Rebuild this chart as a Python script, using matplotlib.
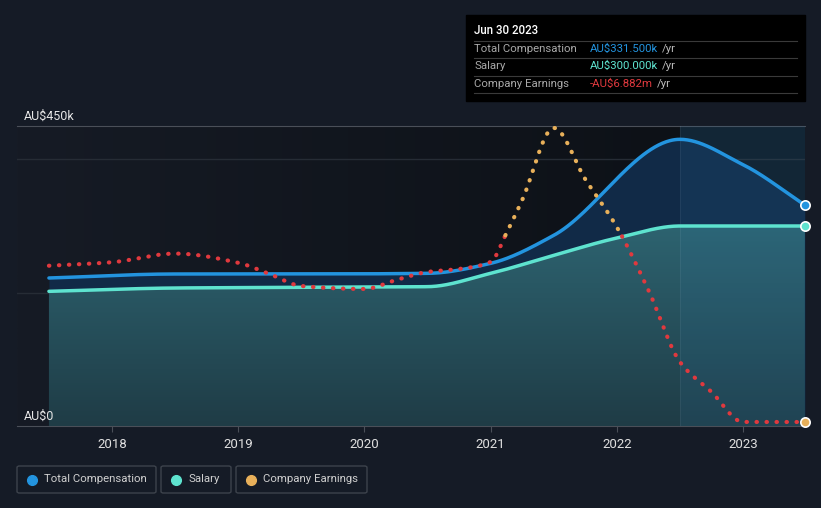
import numpy as np
import matplotlib.pyplot as plt
from matplotlib.patches import FancyBboxPatch, Rectangle
from matplotlib.colors import LinearSegmentedColormap

plt.rcParams['font.family'] = ['Roboto', 'DejaVu Sans']

# ---- data (AU$ thousands, earnings in AU$ millions) ----
comp_x = [2017.5, 2018.5, 2019.5, 2020.5, 2021, 2021.5, 2022.5, 2023, 2023.49]
total_comp = [222, 228, 228, 229, 244, 286, 430, 392, 331.5]
sal_x = [2017.5, 2018.5, 2019.5, 2020.5, 2021, 2021.5, 2022, 2022.5, 2023, 2023.49]
salary = [202, 207, 208, 209, 229, 256, 282, 300, 300, 300]

earn_x = [2017.5, 2018, 2018.5, 2019, 2019.25, 2019.5, 2020, 2020.25, 2020.5, 2020.75,
          2021, 2021.125, 2021.25, 2021.5, 2021.75, 2022, 2022.25, 2022.5, 2022.75,
          2023, 2023.25, 2023.49]
earnings = [-1.10, -0.97, -0.65, -0.99, -1.41, -1.85, -1.96, -1.63, -1.33, -1.22,
            -0.96, 0.10, 1.33, 4.0, 2.1, 0.33, -2.0, -4.66, -5.77,
            -6.88, -6.882, -6.882]

years = [2018, 2019, 2020, 2021, 2022, 2023]

BG = '#151b26'
BLUE = '#2394df'
TEAL = '#5ee3cf'
ORANGE = '#e8b05a'
RED = '#e0393e'


def pchip(x, y, n=600):
    # monotone cubic (Fritsch-Carlson), only used to draw smooth lines
    x = np.asarray(x, float)
    y = np.asarray(y, float)
    h = np.diff(x)
    d = np.diff(y) / h
    m = np.zeros_like(y)
    for i in range(1, len(y) - 1):
        if d[i - 1] * d[i] > 0:
            w1 = 2 * h[i] + h[i - 1]
            w2 = h[i] + 2 * h[i - 1]
            m[i] = (w1 + w2) / (w1 / d[i - 1] + w2 / d[i])
    m[0] = d[0]
    m[-1] = d[-1]
    xs = np.linspace(x[0], x[-1], n)
    idx = np.clip(np.searchsorted(x, xs) - 1, 0, len(h) - 1)
    t = (xs - x[idx]) / h[idx]
    h00 = 2 * t**3 - 3 * t**2 + 1
    h10 = t**3 - 2 * t**2 + t
    h01 = -2 * t**3 + 3 * t**2
    h11 = t**3 - t**2
    ys = h00 * y[idx] + h10 * h[idx] * m[idx] + h01 * y[idx + 1] + h11 * h[idx] * m[idx + 1]
    return xs, ys


fig = plt.figure(figsize=(8.21, 5.08), dpi=100, facecolor=BG)
ax = fig.add_axes([17 / 821, 82 / 508, 788 / 821, 300 / 508])
x0, x1 = 2017.247, 2023.491
ax.set_xlim(x0, x1)
ax.set_ylim(0, 450)
ax.set_facecolor(BG)

# background gradient, darker toward the right
grad = LinearSegmentedColormap.from_list('g', ['#161b25', '#0d1117'])
ax.imshow(np.linspace(0, 1, 256).reshape(1, -1), cmap=grad, aspect='auto',
          extent=[x0, 2022.5, 0, 450], zorder=0)
ax.add_patch(Rectangle((2022.5, 0), x1 - 2022.5, 450, color='#0f1a25', zorder=0))

for g in (200, 400):
    ax.axhline(g, color='#262c35', lw=1, zorder=1)

tx, ty = pchip(comp_x, total_comp)
sx, sy = pchip(sal_x, salary)
ax.fill_between(tx, ty, 0, color='#112a47', zorder=2, lw=0)
sfill = ax.fill_between(sx, sy, 0, color='none', zorder=3, lw=0)
sgrad = LinearSegmentedColormap.from_list('s', ['#1f3c46', '#2d6370'])
img = ax.imshow(np.linspace(0, 1, 256).reshape(-1, 1), cmap=sgrad, aspect='auto', origin='lower',
                extent=[x0, x1, 0, 300], zorder=3)
img.set_clip_path(sfill.get_paths()[0], transform=ax.transData)

# highlight of the last period
ax.axvspan(2022.5, x1, color='#2a7ab0', alpha=0.13, lw=0, zorder=4)
ax.axvline(2022.5, color='white', alpha=0.06, lw=0.8, zorder=4)

ax.plot(tx, ty, color=BLUE, lw=2.5, zorder=6, solid_capstyle='round')
ax.plot(sx, sy, color=TEAL, lw=2.5, zorder=6, solid_capstyle='round')

# earnings on its own hidden scale
ax2 = ax.twinx()
ax2.set_ylim(-7.03, 4.07)
ax2.axis('off')
ex, ey = pchip(earn_x, earnings, 1200)
pos = np.where(ey >= 0, ey, np.nan)
neg = np.where(ey <= 0, ey, np.nan)
dots = dict(lw=3, linestyle=(0, (0.1, 2.3)), dash_capstyle='round', zorder=7)
ax2.plot(ex, neg, color=RED, **dots)
ax2.plot(ex, pos, color=ORANGE, **dots)

# end markers
ax.scatter([comp_x[-1]], [total_comp[-1]], s=45, color=BLUE, edgecolor='white', lw=1.2, zorder=9, clip_on=False)
ax.scatter([sal_x[-1]], [salary[-1]], s=45, color=TEAL, edgecolor='white', lw=1.2, zorder=9, clip_on=False)
ax2.scatter([earn_x[-1]], [earnings[-1]], s=45, color=ORANGE, edgecolor='white', lw=1.2, zorder=9, clip_on=False)

for s in ('left', 'right'):
    ax.spines[s].set_visible(False)
ax.spines['top'].set_color('#4a4f58')
ax.spines['bottom'].set_color('#4a4f58')
ax.set_yticks([])
ax.set_xticks(years)
ax.set_xticklabels([str(y) for y in years], color='#e0e0e0', fontsize=9.5)
ax.tick_params(axis='x', length=4, color='#4a4f58', pad=5)

ax.text(2017.305, 455, 'AU$450k', color='#e6e6e6', fontsize=9, va='bottom', ha='left')
ax.text(2017.305, 5, 'AU$0', color='#e6e6e6', fontsize=9, va='bottom', ha='left')

# tooltip box
W, H = 821, 508
fig.patches.append(Rectangle((466 / W, 1 - 101 / H), 339 / W, 86 / H, transform=fig.transFigure,
                             color='black', zorder=10))
fig.text(474 / W, 1 - 31 / H, 'Jun 30 2023', color='white', fontsize=8.3, fontweight='medium',
         va='center', zorder=11)
rows = [('Total Compensation', 'AU$331.500k', BLUE, 49),
        ('Salary', 'AU$300.000k', TEAL, 66),
        ('Company Earnings', '-AU$6.882m', RED, 84)]
fig.canvas.draw()
for name, val, col, yy in rows:
    fig.text(474 / W, 1 - yy / H, name, color='#a8a8a8', fontsize=8.2, va='center', zorder=11)
    t = fig.text(590 / W, 1 - yy / H, val, color=col, fontsize=8.2, va='center', zorder=11)
    bb = t.get_window_extent(renderer=fig.canvas.get_renderer())
    fig.text((bb.x1 + 4) / W, 1 - yy / H, '/yr', color='#bbbbbb', fontsize=8.2, va='center', zorder=11)
for yy in (40.5, 58, 75.5, 93):
    fig.add_artist(plt.Line2D([474 / W, 797 / W], [1 - yy / H, 1 - yy / H], color='#3a3a3a', lw=0.8,
                              transform=fig.transFigure, zorder=11))

# legend boxes
items = [('Total Compensation', BLUE, 17, 156), ('Salary', TEAL, 161, 231),
         ('Company Earnings', ORANGE, 236, 367)]
for label, col, a, b in items:
    fig.patches.append(FancyBboxPatch((a / W, 1 - 493 / H), (b - a) / W, 27 / H,
                                      boxstyle='round,pad=0,rounding_size=0.003',
                                      transform=fig.transFigure, facecolor='none',
                                      edgecolor='#3d434c', lw=1))
    fig.add_artist(plt.Line2D([(a + 15) / W], [1 - 479.5 / H], marker='o', markersize=7,
                              color=col, transform=fig.transFigure))
    fig.text((a + 27) / W, 1 - 479.5 / H, label, color='#cfcfcf', fontsize=8.2, va='center')

fig.savefig('out.png', dpi=100, facecolor=BG)
